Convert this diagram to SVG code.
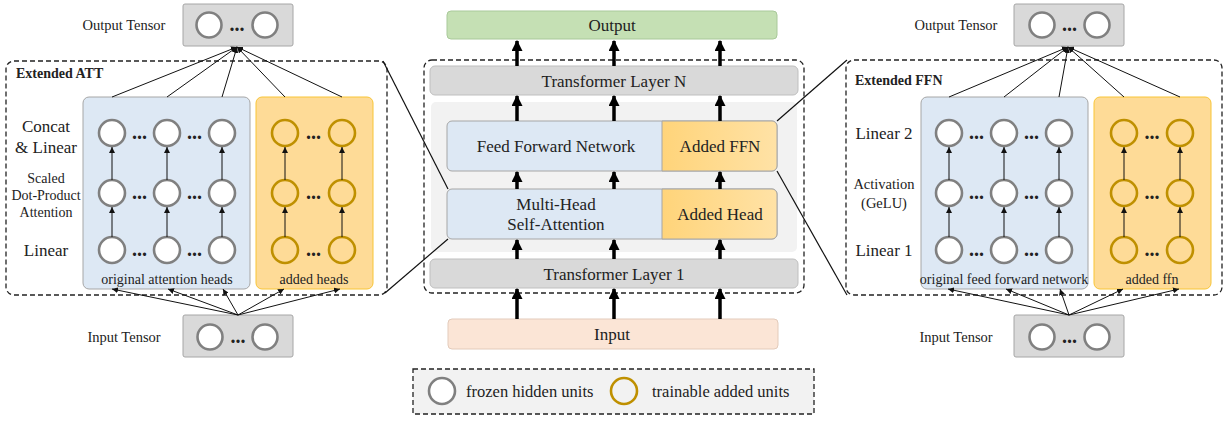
<svg xmlns="http://www.w3.org/2000/svg" width="1228" height="422" viewBox="0 0 1228 422" font-family="'Liberation Serif', 'Times New Roman', 'DejaVu Serif', serif">
<defs>
<style>
text{font-family:'Liberation Serif','Times New Roman','DejaVu Serif',serif;fill:#222}
.t17{font-size:17px}
.t16{font-size:16.5px}
.t14{font-size:14.5px}
.t13{font-size:14px}
.b{font-weight:bold}
.dots{font-size:20px;font-weight:bold}
.fz{fill:#fff;stroke:#808080;stroke-width:2.6}
.tr{fill:none;stroke:#bf9000;stroke-width:2.6}
.dash{fill:none;stroke:#222;stroke-width:1.3;stroke-dasharray:5 3}
.tensor{fill:#d9d9d9;stroke:#a6a6a6;stroke-width:1}
.blue{fill:#dde8f4;stroke:#a6a6a6;stroke-width:1}
.orng{fill:#fedb97;stroke:#f8c537;stroke-width:1}
.thin{stroke:#111;stroke-width:1;fill:none;marker-end:url(#sa)}
.thick{stroke:#000;stroke-width:3.5;fill:none;marker-end:url(#ta)}
.zl{stroke:#111;stroke-width:1.2;fill:none}
</style>
<marker id="sa" viewBox="0 0 10 10" refX="10" refY="5" markerWidth="6" markerHeight="6" markerUnits="userSpaceOnUse" orient="auto"><path d="M0,0L10,5L0,10z" fill="#111"/></marker>
<marker id="ta" viewBox="0 0 10 10" refX="9" refY="5" markerWidth="11" markerHeight="11" markerUnits="userSpaceOnUse" orient="auto"><path d="M0,0L10,5L0,10z" fill="#000"/></marker>
<linearGradient id="og" x1="0" y1="0" x2="1" y2="0"><stop offset="0" stop-color="#ffd47a"/><stop offset="1" stop-color="#ffe2a6"/></linearGradient>
</defs>

<!-- LEFT PANEL -->
<g id="att-output-tensor">
<text class="t14" x="124" y="30" text-anchor="middle">Output Tensor</text>
<rect class="tensor" x="183" y="4" width="110" height="42" rx="2"/>
<circle class="fz" cx="209" cy="25" r="12.5"/><circle class="fz" cx="265" cy="25" r="12.5"/>
<text class="dots" x="237" y="31" text-anchor="middle">...</text>
</g>
<g id="extended-att">
<rect class="dash" x="6" y="61" width="381" height="234" rx="8"/>
<text class="t13 b" x="16" y="78">Extended ATT</text>
<text class="t17" x="46" y="132" text-anchor="middle">Concat</text>
<text class="t17" x="46" y="153" text-anchor="middle">&amp; Linear</text>
<text class="t13" x="46" y="183" text-anchor="middle">Scaled</text>
<text class="t13" x="46" y="200" text-anchor="middle">Dot-Product</text>
<text class="t13" x="46" y="217" text-anchor="middle">Attention</text>
<text class="t17" x="46" y="256" text-anchor="middle">Linear</text>
</g>
<g id="att-original-heads">
<rect class="blue" x="83" y="97" width="167" height="192" rx="6"/>
<g class="fz"><circle cx="112" cy="133" r="13"/><circle cx="167" cy="133" r="13"/><circle cx="222" cy="133" r="13"/>
<circle cx="112" cy="193" r="13"/><circle cx="167" cy="193" r="13"/><circle cx="222" cy="193" r="13"/>
<circle cx="112" cy="250" r="13"/><circle cx="167" cy="250" r="13"/><circle cx="222" cy="250" r="13"/></g>
<text class="dots" x="139.5" y="139" text-anchor="middle">...</text><text class="dots" x="194.5" y="139" text-anchor="middle">...</text>
<text class="dots" x="139.5" y="199" text-anchor="middle">...</text><text class="dots" x="194.5" y="199" text-anchor="middle">...</text>
<text class="dots" x="139.5" y="256" text-anchor="middle">...</text><text class="dots" x="194.5" y="256" text-anchor="middle">...</text>
<text class="t13" x="167" y="284" text-anchor="middle">original attention heads</text>
</g>
<g id="att-added-heads">
<rect class="orng" x="256" y="97" width="117" height="192" rx="6"/>
<g class="tr"><circle cx="285" cy="133" r="13"/><circle cx="342" cy="133" r="13"/>
<circle cx="285" cy="193" r="13"/><circle cx="342" cy="193" r="13"/>
<circle cx="285" cy="250" r="13"/><circle cx="342" cy="250" r="13"/></g>
<text class="dots" x="313.5" y="139" text-anchor="middle">...</text>
<text class="dots" x="313.5" y="199" text-anchor="middle">...</text>
<text class="dots" x="313.5" y="256" text-anchor="middle">...</text>
<text class="t13" x="314" y="284" text-anchor="middle">added heads</text>
</g>
<g id="att-input-tensor">
<text class="t14" x="124" y="342" text-anchor="middle">Input Tensor</text>
<rect class="tensor" x="183" y="315" width="110" height="42" rx="2"/>
<circle class="fz" cx="210" cy="337" r="12.5"/><circle class="fz" cx="265" cy="337" r="12.5"/>
<text class="dots" x="238" y="343" text-anchor="middle">...</text>
</g>

<!-- CENTER -->
<g id="output"><rect x="447" y="11" width="330" height="28" rx="4" fill="#c5e0b4" stroke="#a9c99a"/><text class="t17" x="612" y="31" text-anchor="middle">Output</text></g>
<g id="stack-frame"><rect class="dash" x="424" y="60" width="380" height="233" rx="8"/><rect x="431" y="102" width="366" height="150" rx="5" fill="#f2f2f2"/></g>
<g id="layer-n"><rect x="430" y="66" width="368" height="29" rx="5" fill="#d9d9d9" stroke="#bfbfbf"/><text class="t17" x="614" y="87" text-anchor="middle">Transformer Layer N</text></g>
<g id="ffn"><rect x="447" y="121" width="330" height="50" rx="5" fill="#dde8f4" stroke="#a6a6a6"/>
<path d="M662,121H772a5,5 0 0 1 5,5V166a5,5 0 0 1 -5,5H662z" fill="url(#og)" stroke="#a6a6a6"/>
<text class="t17" x="556" y="152" text-anchor="middle">Feed Forward Network</text><text class="t17" x="720" y="152" text-anchor="middle">Added FFN</text></g>
<g id="mhsa"><rect x="447" y="189" width="330" height="50" rx="5" fill="#dde8f4" stroke="#a6a6a6"/>
<path d="M662,189H772a5,5 0 0 1 5,5V234a5,5 0 0 1 -5,5H662z" fill="url(#og)" stroke="#a6a6a6"/>
<text class="t17" x="556" y="210" text-anchor="middle">Multi-Head</text><text class="t17" x="556" y="230" text-anchor="middle">Self-Attention</text>
<text class="t17" x="720" y="220" text-anchor="middle">Added Head</text></g>
<g id="layer-1"><rect x="430" y="259" width="368" height="29" rx="5" fill="#d9d9d9" stroke="#bfbfbf"/><text class="t17" x="614" y="280" text-anchor="middle">Transformer Layer 1</text></g>
<g id="input"><rect x="448" y="319" width="330" height="30" rx="4" fill="#fbe5d6" stroke="#e3cbbb"/><text class="t17" x="612" y="340" text-anchor="middle">Input</text></g>
<g id="legend"><rect x="413" y="369" width="401" height="45" fill="#f2f2f2" stroke="#222" stroke-width="1.3" stroke-dasharray="5 3"/>
<circle class="fz" cx="442" cy="391" r="13"/><text class="t16" x="466" y="397">frozen hidden units</text>
<circle class="tr" cx="624" cy="391" r="13"/><text class="t16" x="652" y="397">trainable added units</text></g>

<!-- RIGHT PANEL -->
<g id="ffn-output-tensor">
<text class="t14" x="956" y="30" text-anchor="middle">Output Tensor</text>
<rect class="tensor" x="1014" y="4" width="110" height="42" rx="2"/>
<circle class="fz" cx="1042" cy="25" r="12.5"/><circle class="fz" cx="1097" cy="25" r="12.5"/>
<text class="dots" x="1069.5" y="31" text-anchor="middle">...</text>
</g>
<g id="extended-ffn">
<rect class="dash" x="846" y="60" width="376" height="235" rx="8"/>
<text class="t13 b" x="855" y="85">Extended FFN</text>
<text class="t17" x="884" y="139" text-anchor="middle">Linear 2</text>
<text class="t14" x="884" y="189" text-anchor="middle">Activation</text>
<text class="t14" x="884" y="208" text-anchor="middle">(GeLU)</text>
<text class="t17" x="884" y="256" text-anchor="middle">Linear 1</text>
</g>
<g id="ffn-original">
<rect class="blue" x="921" y="97" width="167" height="192" rx="6"/>
<g class="fz"><circle cx="949" cy="133" r="13"/><circle cx="1004" cy="133" r="13"/><circle cx="1059" cy="133" r="13"/>
<circle cx="949" cy="193" r="13"/><circle cx="1004" cy="193" r="13"/><circle cx="1059" cy="193" r="13"/>
<circle cx="949" cy="250" r="13"/><circle cx="1004" cy="250" r="13"/><circle cx="1059" cy="250" r="13"/></g>
<text class="dots" x="976.5" y="139" text-anchor="middle">...</text><text class="dots" x="1031.5" y="139" text-anchor="middle">...</text>
<text class="dots" x="976.5" y="199" text-anchor="middle">...</text><text class="dots" x="1031.5" y="199" text-anchor="middle">...</text>
<text class="dots" x="976.5" y="256" text-anchor="middle">...</text><text class="dots" x="1031.5" y="256" text-anchor="middle">...</text>
<text class="t13" x="1004" y="284" text-anchor="middle">original feed forward network</text>
</g>
<g id="ffn-added">
<rect class="orng" x="1094" y="97" width="117" height="192" rx="6"/>
<g class="tr"><circle cx="1124" cy="133" r="13"/><circle cx="1180" cy="133" r="13"/>
<circle cx="1124" cy="193" r="13"/><circle cx="1180" cy="193" r="13"/>
<circle cx="1124" cy="250" r="13"/><circle cx="1180" cy="250" r="13"/></g>
<text class="dots" x="1152" y="139" text-anchor="middle">...</text>
<text class="dots" x="1152" y="199" text-anchor="middle">...</text>
<text class="dots" x="1152" y="256" text-anchor="middle">...</text>
<text class="t13" x="1152" y="284" text-anchor="middle">added ffn</text>
</g>
<g id="ffn-input-tensor">
<text class="t14" x="956" y="342" text-anchor="middle">Input Tensor</text>
<rect class="tensor" x="1014" y="315" width="110" height="42" rx="2"/>
<circle class="fz" cx="1042" cy="337" r="12.5"/><circle class="fz" cx="1097" cy="337" r="12.5"/>
<text class="dots" x="1069.5" y="343" text-anchor="middle">...</text>
</g>

<!-- CONNECTORS -->
<g id="connectors">
<path class="zl" d="M383,61L448,189"/>
<path class="zl" d="M448,239L385,293"/>
<path class="zl" d="M777,121L847,60"/>
<path class="zl" d="M777,171L847,295"/>
<path class="thick" d="M517,66V41"/><path class="thick" d="M614,66V41"/><path class="thick" d="M720,66V41"/>
<path class="thick" d="M517,121V96"/><path class="thick" d="M614,121V96"/><path class="thick" d="M720,121V96"/>
<path class="thick" d="M517,189V172"/><path class="thick" d="M614,189V172"/><path class="thick" d="M720,189V172"/>
<path class="thick" d="M517,259V240"/><path class="thick" d="M614,259V240"/><path class="thick" d="M720,259V240"/>
<path class="thick" d="M517,319V289"/><path class="thick" d="M614,319V289"/><path class="thick" d="M720,319V289"/>
<path class="thin" d="M112,97L237,47"/><path class="thin" d="M167,97L237,47"/><path class="thin" d="M222,97L237,47"/>
<path class="thin" d="M285,97L237,47"/><path class="thin" d="M342,97L237,47"/>
<path class="thin" d="M238,315L112,289"/><path class="thin" d="M238,315L168,289"/><path class="thin" d="M238,315L223,289"/>
<path class="thin" d="M238,315L284,289"/><path class="thin" d="M238,315L340,289"/>
<path class="thin" d="M112,237V207"/><path class="thin" d="M167,237V207"/><path class="thin" d="M222,237V207"/>
<path class="thin" d="M285,237V207"/><path class="thin" d="M342,237V207"/>
<path class="thin" d="M112,180V147"/><path class="thin" d="M167,180V147"/><path class="thin" d="M222,180V147"/>
<path class="thin" d="M285,180V147"/><path class="thin" d="M342,180V147"/>
<path class="thin" d="M949,97L1068,47"/><path class="thin" d="M1004,97L1068,47"/><path class="thin" d="M1059,97L1068,47"/>
<path class="thin" d="M1124,97L1068,47"/><path class="thin" d="M1180,97L1068,47"/>
<path class="thin" d="M1069,315L948,289"/><path class="thin" d="M1069,315L1006,289"/><path class="thin" d="M1069,315L1060,289"/>
<path class="thin" d="M1069,315L1123,289"/><path class="thin" d="M1069,315L1179,289"/>
<path class="thin" d="M949,237V207"/><path class="thin" d="M1004,237V207"/><path class="thin" d="M1059,237V207"/>
<path class="thin" d="M1124,237V207"/><path class="thin" d="M1180,237V207"/>
<path class="thin" d="M949,180V147"/><path class="thin" d="M1004,180V147"/><path class="thin" d="M1059,180V147"/>
<path class="thin" d="M1124,180V147"/><path class="thin" d="M1180,180V147"/>
</g>
</svg>
